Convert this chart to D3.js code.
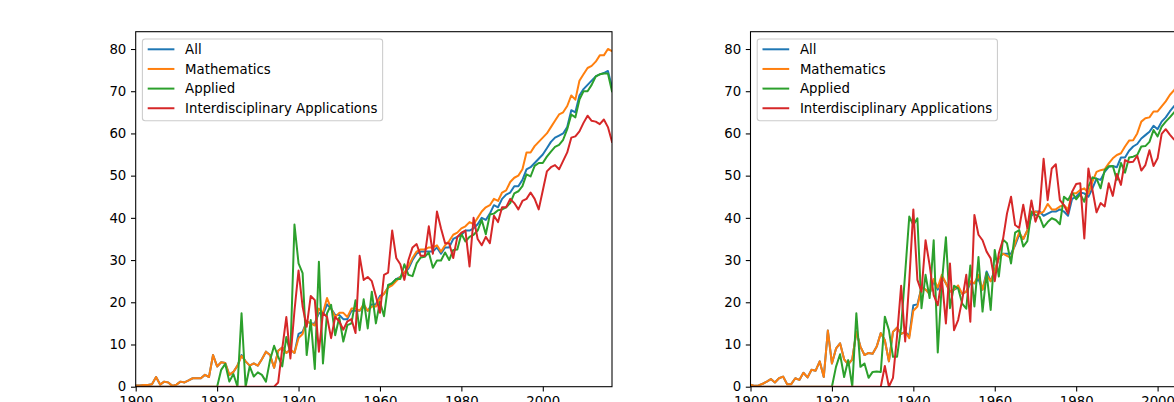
<!DOCTYPE html>
<html>
<head>
<meta charset="utf-8">
<script src="https://cdn.jsdelivr.net/npm/d3@7"></script>
<style>
  html, body { margin: 0; padding: 0; background: #fff; overflow: hidden; }
  svg { display: block; font-family: 'DejaVu Sans', sans-serif; }
</style>
</head>
<body>
<div id="chart"></div>
<script>
/* categories and ticks */
const years = d3.range(1900, 2018);
const seriesNames = ['All', 'Mathematics', 'Applied', 'Interdisciplinary Applications'];
const seriesColors = ['#1f77b4', '#ff7f0e', '#2ca02c', '#d62728'];
const xTickValues = [1900, 1920, 1940, 1960, 1980, 2000];
const yTickValues = [0, 10, 20, 30, 40, 50, 60, 70, 80];

/* left panel, 1900-2017 */
const leftAll = [
  0.3, 0.3, 0.4, 0.4, 0.6, 2.3, 0.5, 1.2, 1.0, 0.2,
  0.5, 1.2, 1.0, 1.5, 2.0, 2.0, 2.0, 2.8, 2.3, 7.5,
  4.8, 5.8, 5.6, 2.8, 3.5, 5.0, 7.5, 6.0, 5.0, 5.5,
  5.0, 6.5, 8.3, 7.5, 4.5, 8.5, 9.3, 8.0, 8.8, 8.0,
  12.5, 13.0, 15.5, 15.0, 15.0, 17.5, 17.0, 19.5, 18.5, 17.0,
  17.0, 16.0, 16.0, 18.0, 18.0, 18.0, 19.0, 18.0, 19.5, 19.5,
  21.5, 22.0, 23.5, 24.5, 25.5, 26.0, 27.0, 28.0, 30.0, 31.5,
  32.0, 32.0, 32.0, 32.0, 33.0, 31.5, 33.0, 33.0, 35.0, 35.5,
  36.0, 37.0, 37.0, 37.5, 38.5, 40.0, 39.5, 41.0, 43.0, 42.5,
  44.5, 45.5, 46.0, 47.5, 47.5, 49.0, 51.5, 52.0, 53.0, 54.0,
  55.0, 56.5, 58.0, 59.0, 59.5, 60.0, 61.5, 65.5, 65.0, 69.0,
  70.5, 71.5, 72.5, 73.5, 74.0, 74.3, 74.8, 71.0
];
const leftMath = [
  0.3, 0.3, 0.4, 0.4, 0.6, 2.3, 0.5, 1.2, 1.0, 0.2,
  0.5, 1.2, 1.0, 1.5, 2.0, 2.0, 2.0, 2.8, 2.3, 7.5,
  4.8, 5.8, 5.6, 2.8, 3.5, 5.0, 7.3, 6.0, 5.0, 5.5,
  5.0, 6.5, 8.3, 7.5, 4.5, 8.5, 9.3, 8.0, 8.8, 8.0,
  11.5, 12.5, 15.5, 15.0, 14.5, 18.5, 17.5, 21.0, 18.5, 16.5,
  17.5, 17.5, 16.5, 18.5, 18.5, 18.0, 19.5, 18.0, 19.0, 19.0,
  21.0, 22.0, 23.5, 24.0, 25.0, 26.0, 27.0, 28.5, 30.5, 32.0,
  32.5, 32.5, 33.0, 33.0, 33.5, 32.0, 33.5, 34.5, 36.0, 36.5,
  37.5, 38.0, 39.0, 38.5, 40.0, 41.5, 42.5, 43.0, 44.5, 44.0,
  46.0, 46.5, 48.5, 49.5, 50.0, 51.5, 55.5, 55.5, 57.0, 58.0,
  59.0, 60.0, 61.5, 63.0, 64.5, 65.0, 66.5, 69.0, 68.0, 72.5,
  74.0, 75.5, 76.0, 77.0, 78.5, 78.5, 80.0, 79.5
];
const leftApplied = [
  0, 0, 0, 0, 0, 0, 0, 0, 0, 0,
  0, 0, 0, 0, 0, 0, 0, 0, 0, 0,
  0, 4.0, 5.4, 1.2, 3.0, 0, 17.4, 0, 4.8, 2.4,
  3.4, 2.8, 1.2, 6.3, 9.7, 7.1, 4.8, 11.8, 7.9, 38.4,
  29.2, 26.9, 7.5, 15.8, 4.2, 29.6, 5.5, 17.4, 19.4, 12.2,
  16.4, 10.7, 14.6, 15.0, 20.5, 13.4, 20.7, 13.8, 22.5, 15.0,
  20.1, 16.7, 24.1, 24.5, 25.5, 25.5, 29.0, 26.5, 26.2, 29.2,
  30.6, 30.8, 31.8, 28.2, 29.9, 29.9, 31.8, 30.0, 32.4, 32.5,
  36.2, 34.4, 35.5, 36.0, 37.0, 39.5, 36.1, 40.8, 41.0, 41.8,
  42.0, 42.5, 43.5, 45.8, 46.3, 47.5, 50.3, 49.8, 52.3, 53.0,
  53.0, 54.5, 55.7, 56.8, 57.3, 58.5, 61.0, 64.5, 63.8, 68.0,
  70.0, 70.0, 71.5, 73.5, 74.0, 74.2, 74.2, 70.0
];
const leftInter = [
  0, 0, 0, 0, 0, 0, 0, 0, 0, 0,
  0, 0, 0, 0, 0, 0, 0, 0, 0, 0,
  0, 0, 0, 0, 0, 0, 0, 0, 0, 0,
  0, 0, 0, 0, 0, 1.0, 9.0, 16.5, 6.7, 18.0,
  27.5, 19.0, 14.2, 21.5, 20.5, 8.3, 17.5, 16.5, 11.5, 16.5,
  15.5, 13.5, 15.5, 16.0, 12.7, 31.0, 25.3, 26.0, 25.0, 21.5,
  17.5, 26.5, 27.0, 37.0, 30.5, 29.0, 25.3, 30.0, 33.0, 33.8,
  31.0, 31.0, 38.0, 31.5, 41.5, 37.5, 34.0, 34.0, 30.5, 35.5,
  36.5, 37.0, 28.5, 40.0, 35.0, 33.5, 35.5, 34.0, 40.5, 39.0,
  42.5, 42.5, 44.5, 43.5, 42.0, 44.0, 44.5, 46.0, 44.5, 42.0,
  46.5, 51.0, 52.0, 52.5, 51.5, 53.5, 55.5, 59.0, 59.3, 60.5,
  62.5, 64.2, 63.0, 62.8, 62.2, 63.3, 61.5, 58.0
];

/* right panel, 1900-2005 (the rest is outside the picture) */
const rightAll = [
  0.5, 0.2, 0.3, 0.7, 1.2, 1.8, 1.0, 2.0, 2.4, 0.6,
  0.6, 2.0, 1.6, 3.3, 2.2, 4.0, 3.8, 6.0, 2.3, 13.3,
  5.5, 9.0, 10.3, 6.5, 5.3, 6.5, 13.0, 9.5, 7.5, 8.0,
  7.8, 9.5, 12.7, 11.0, 6.0, 13.0, 14.0, 12.5, 13.0, 12.0,
  19.3, 19.5, 23.5, 23.0, 22.0, 25.0, 23.0, 26.0, 24.5, 22.5,
  23.0, 23.5, 22.0, 22.5, 24.5, 24.5, 25.5, 23.0, 27.3, 25.0,
  27.5, 30.5, 31.5, 31.5, 31.5, 33.5, 36.0, 35.0, 37.0, 40.5,
  41.5, 41.5, 40.5, 41.0, 41.5, 41.5, 42.0, 41.5, 40.5, 44.5,
  45.0, 46.0, 45.8, 45.0, 47.0, 49.3, 49.0, 50.9, 52.1, 52.3,
  52.0, 54.3, 54.3, 55.9, 56.9, 57.5, 58.8, 59.6, 60.4, 61.8,
  61.0, 62.8, 63.8, 65.2, 66.4, 67.5
];
const rightMath = [
  0.5, 0.2, 0.3, 0.7, 1.2, 1.8, 1.0, 2.0, 2.4, 0.6,
  0.6, 2.0, 1.6, 3.3, 2.2, 4.0, 3.8, 6.0, 2.3, 13.3,
  5.5, 9.0, 10.3, 6.5, 5.3, 6.5, 13.0, 9.5, 7.5, 8.0,
  7.8, 9.5, 12.7, 11.0, 6.0, 13.0, 14.0, 12.5, 13.0, 11.5,
  18.0, 19.0, 23.5, 23.0, 22.0, 25.5, 23.5, 26.5, 24.5, 22.5,
  23.0, 24.0, 22.0, 22.5, 25.0, 24.5, 26.5, 23.0, 26.5, 25.0,
  27.5, 30.5, 31.5, 31.0, 30.5, 34.0, 36.5, 35.0, 37.0, 41.0,
  41.5, 41.0, 41.5, 43.3, 42.0, 42.0, 42.7, 43.0, 42.0, 45.8,
  45.8, 46.6, 47.0, 45.8, 48.6, 50.9, 51.3, 51.5, 52.9, 54.1,
  54.9, 55.3, 56.9, 58.3, 58.4, 60.0, 62.8, 63.6, 63.8, 65.2,
  65.2, 66.4, 67.6, 69.1, 70.2, 71.5
];
const rightApplied = [
  0, 0, 0, 0, 0, 0, 0, 0, 0, 0,
  0, 0, 0, 0, 0, 0, 0, 0, 0, 0,
  0, 4.7, 7.7, 2.3, 6.3, 0, 17.4, 4.7, 5.5, 2.1,
  3.5, 3.6, 3.5, 16.6, 13.4, 7.1, 7.1, 14.0, 27.0, 40.3,
  38.3, 39.9, 18.6, 26.5, 21.0, 34.7, 8.1, 24.5, 35.4, 18.6,
  23.9, 23.3, 19.7, 18.5, 28.7, 19.0, 30.7, 17.8, 27.0, 18.2,
  32.4, 26.1, 34.9, 34.0, 29.2, 36.5, 37.1, 33.2, 34.5, 41.5,
  40.7, 40.3, 37.8, 39.0, 39.9, 39.5, 38.5, 45.0, 44.2, 46.0,
  44.4, 45.6, 43.8, 47.4, 49.6, 49.3, 47.0, 51.3, 52.2, 52.3,
  49.0, 53.0, 50.7, 54.3, 54.5, 54.9, 56.9, 57.0, 58.0, 60.8,
  59.3, 61.6, 62.8, 63.8, 64.9, 66.0
];
const rightInter = [
  0, 0, 0, 0, 0, 0, 0, 0, 0, 0,
  0, 0, 0, 0, 0, 0, 0, 0, 0, 0,
  0, 0, 0, 0, 0, 0, 0, 0, 0, 0,
  0, 0, 0, 4.9, 0, 2.1, 12.0, 23.9, 10.7, 25.0,
  42.0, 25.3, 22.5, 34.7, 28.8, 21.7, 19.3, 25.7, 15.0, 29.2,
  13.4, 15.8, 20.5, 26.5, 15.4, 40.7, 36.0, 34.7, 32.0, 30.4,
  25.0, 31.6, 34.8, 41.0, 45.0, 38.3, 37.6, 43.1, 37.6, 44.1,
  39.1, 41.8, 54.0, 44.2, 51.7, 52.7, 44.2, 43.0, 41.0, 46.2,
  48.0, 48.2, 35.1, 51.7, 46.6, 41.3, 43.5, 42.7, 48.2, 45.2,
  50.4, 47.8, 53.7, 53.2, 53.3, 54.7, 51.2, 52.5, 56.0, 52.3,
  54.1, 59.9, 61.0, 59.7, 58.6, 58.0
];

const panels = [
  { left: 135.7, series: [leftAll, leftMath, leftApplied, leftInter] },
  { left: 750.5, series: [rightAll, rightMath, rightApplied, rightInter] }
];

const fullWidth = 1174;
const fullHeight = 402;
const plotTop = 31.7;
const plotW = 476.3;
const plotH = 355;
const fontSize = 13.3;

const svg = d3.select('#chart')
  .append('svg')
  .attr('width', fullWidth)
  .attr('height', fullHeight);

/* one subplot: axes, lines, legend */
function drawPanel (panel, idx) {
  const x = d3.scaleLinear().domain([1900, 2017]).range([0, plotW]);
  const y = d3.scaleLinear().domain([0, 84.1]).range([plotH, 0]);

  const g = svg.append('g')
    .attr('transform', 'translate(' + panel.left + ',' + plotTop + ')');

  g.append('clipPath')
    .attr('id', 'clip' + idx)
    .append('rect')
    .attr('width', plotW)
    .attr('height', plotH);

  const line = d3.line()
    .x(function (d, i) { return x(years[i]); })
    .y(function (d) { return y(d); });

  g.append('g')
    .attr('clip-path', 'url(#clip' + idx + ')')
    .selectAll('path')
    .data(panel.series)
    .enter()
    .append('path')
    .attr('d', function (d) { return line(d); })
    .attr('fill', 'none')
    .attr('stroke', function (d, i) { return seriesColors[i]; })
    .attr('stroke-width', 2)
    .attr('stroke-linejoin', 'round')
    .attr('stroke-linecap', 'square');

  /* axes */
  const xAxis = g.append('g')
    .attr('transform', 'translate(0,' + plotH + ')')
    .call(d3.axisBottom(x).tickValues(xTickValues).tickFormat(d3.format('d'))
      .tickSizeInner(4.7).tickSizeOuter(0).tickPadding(4.7));
  const yAxis = g.append('g')
    .call(d3.axisLeft(y).tickValues(yTickValues)
      .tickSizeInner(4.7).tickSizeOuter(0).tickPadding(4.7));
  [xAxis, yAxis].forEach(function (a) {
    a.select('.domain').remove();
    a.selectAll('line').attr('stroke', '#000').attr('stroke-width', 1.07);
    a.selectAll('text')
      .attr('fill', '#000')
      .style('font-size', fontSize + 'px')
      .style('font-family', "'DejaVu Sans', sans-serif");
  });

  g.append('rect')
    .attr('width', plotW)
    .attr('height', plotH)
    .attr('fill', 'none')
    .attr('stroke', '#000')
    .attr('stroke-width', 1.07);

  /* legend */
  const lg = g.append('g');
  const boxX = 6.7;
  const boxY = 7.3;
  const rowGap = 19.65;
  const firstRow = 17.6;
  const handleX0 = boxX + 5.3;
  const handleX1 = handleX0 + 26.7;
  const textX = handleX1 + 10.7;
  const box = lg.append('rect')
    .attr('x', boxX)
    .attr('y', boxY)
    .attr('height', 81.7)
    .attr('rx', 2.7)
    .attr('fill', '#fff')
    .attr('fill-opacity', 0.8)
    .attr('stroke', '#cccccc')
    .attr('stroke-width', 1.07);
  const rows = lg.selectAll('.row')
    .data(seriesNames)
    .enter()
    .append('g')
    .attr('transform', function (d, i) { return 'translate(0,' + (firstRow + i * rowGap) + ')'; });
  rows.append('line')
    .attr('x1', handleX0)
    .attr('x2', handleX1)
    .attr('stroke', function (d, i) { return seriesColors[i]; })
    .attr('stroke-width', 2);
  const labels = rows.append('text')
    .attr('x', textX)
    .attr('dy', '0.36em')
    .style('font-size', fontSize + 'px')
    .attr('fill', '#000')
    .text(function (d) { return d; });
  let maxLen = 0;
  labels.each(function () { maxLen = Math.max(maxLen, this.getComputedTextLength()); });
  box.attr('width', textX + maxLen + 5.3 - boxX);
}

panels.forEach(drawPanel);
</script>
</body>
</html>
